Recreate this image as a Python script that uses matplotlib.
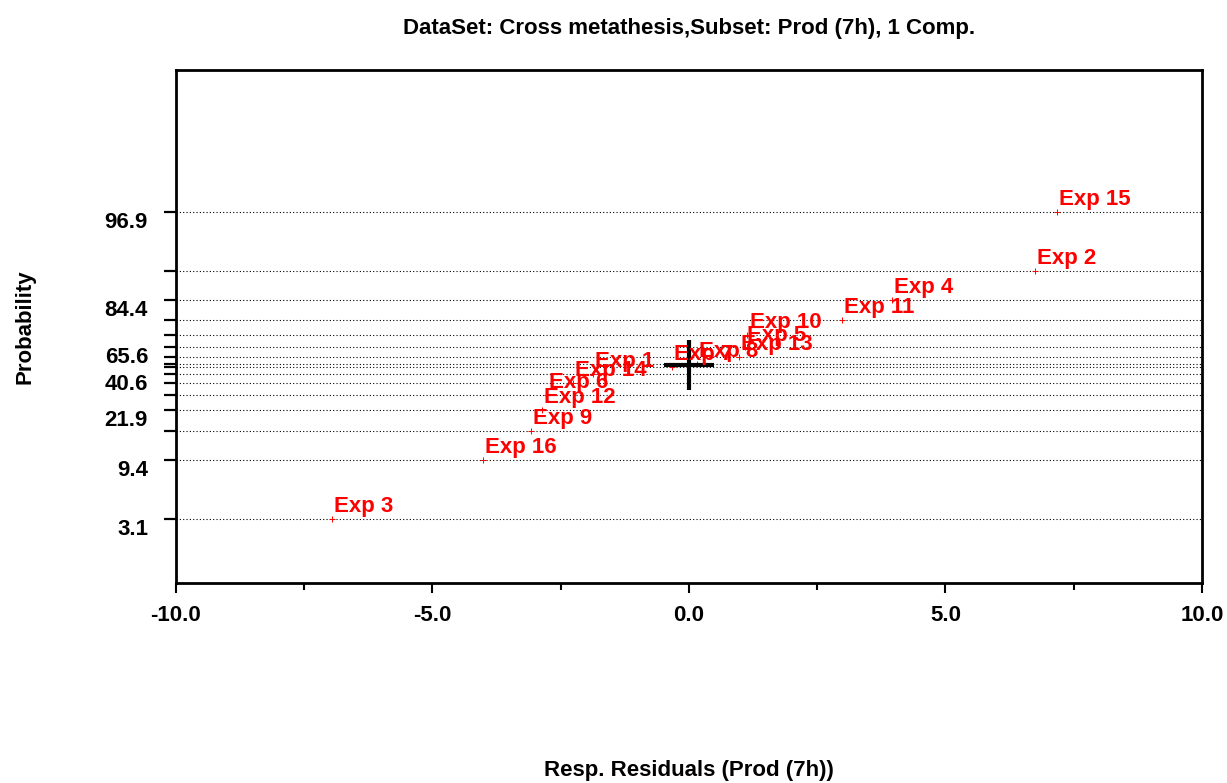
import matplotlib
matplotlib.use('Agg')
import matplotlib.pyplot as plt
import matplotlib.transforms as mtransforms
from matplotlib.ticker import MultipleLocator, FixedLocator
import numpy as np
from statistics import NormalDist

plt.rcParams['font.family'] = ['Liberation Sans', 'DejaVu Sans']
plt.rcParams['font.weight'] = 'bold'

# experiments sorted by residual, with their normal probability (%)
exp_names = ['Exp 3', 'Exp 16', 'Exp 9', 'Exp 12', 'Exp 6', 'Exp 14', 'Exp 1', 'Exp 7',
             'Exp 8', 'Exp 13', 'Exp 5', 'Exp 10', 'Exp 11', 'Exp 4', 'Exp 2', 'Exp 15']
residuals = [-6.96, -4.02, -3.08, -2.87, -2.77, -2.27, -1.87, -0.33,
             0.16, 0.97, 1.10, 1.14, 2.99, 3.96, 6.75, 7.18]
probability = [3.1, 9.4, 15.6, 21.9, 28.1, 34.4, 40.6, 46.9,
               53.1, 59.4, 65.6, 71.9, 78.1, 84.4, 90.6, 96.9]
labelled_probs = [3.1, 9.4, 21.9, 40.6, 65.6, 84.4, 96.9]
x_ticks = [-10.0, -5.0, 0.0, 5.0, 10.0]

title = 'DataSet: Cross metathesis,Subset: Prod (7h), 1 Comp.'
x_title = 'Resp. Residuals (Prod (7h))'
y_title = 'Probability'

nd = NormalDist()
_ppf = np.vectorize(nd.inv_cdf, otypes=[float])
_cdf = np.vectorize(nd.cdf, otypes=[float])
POW = 1.4


def prob_fwd(p):
    p = np.clip(np.asarray(p, dtype=float) / 100.0, 1e-9, 1 - 1e-9)
    z = _ppf(p)
    return np.sign(z) * np.abs(z) ** POW


def prob_inv(y):
    y = np.asarray(y, dtype=float)
    z = np.sign(y) * np.abs(y) ** (1.0 / POW)
    return _cdf(z) * 100.0


fig = plt.figure(figsize=(12.27, 7.83), dpi=100)
ax = fig.add_axes([0.1434, 0.2554, 0.8362, 0.6552])

ax.set_yscale('function', functions=(prob_fwd, prob_inv))
ax.set_xlim(-10, 10)
ax.set_ylim(float(prob_inv(-3.39)), float(prob_inv(4.60)))

# grid lines at every probability level
ax.yaxis.set_major_locator(FixedLocator(probability))
ax.set_yticklabels([('%.1f' % p) if p in labelled_probs else '' for p in probability])
ax.yaxis.grid(True, color='black', linestyle=(0, (1, 2)), linewidth=0.8)
ax.yaxis.set_minor_locator(FixedLocator([]))

ax.set_xticks(x_ticks)
ax.set_xticklabels(['%.1f' % v for v in x_ticks])
ax.xaxis.set_minor_locator(MultipleLocator(2.5))

ax.tick_params(axis='y', which='major', direction='out', length=8.6, width=1.6,
               labelsize=16, pad=11.5, right=False)
ax.tick_params(axis='x', which='major', direction='out', length=7, width=1.5,
               labelsize=16, pad=9, top=False)
ax.tick_params(axis='x', which='minor', direction='out', length=5, width=1.5, top=False)

# shift y labels a bit below their tick, like the original
off = mtransforms.ScaledTranslation(0, -8 / 100, fig.dpi_scale_trans)
for lab in ax.get_yticklabels():
    lab.set_transform(lab.get_transform() + off)

for s in ax.spines.values():
    s.set_linewidth(2)
    s.set_color('black')

# points + labels
ax.plot(residuals, probability, linestyle='none', marker='+', ms=4, mew=0.7, color='red')
for name, r, p in zip(exp_names, residuals, probability):
    ax.annotate(name, (r, p), xytext=(1.5, 5), textcoords='offset points',
                color='red', fontsize=16, fontweight='bold', ha='left', va='baseline')

# center cross
ax.plot([0], [50], marker='+', ms=36, mew=3, color='black')

ax.set_title(title, fontsize=16, fontweight='bold', pad=26)
ax.set_xlabel(x_title, fontsize=16, fontweight='bold')
ax.xaxis.set_label_coords(0.5, -0.366)
ax.xaxis.label.set_va('center')
ax.set_ylabel(y_title, fontsize=16, fontweight='bold')
ax.yaxis.set_label_coords(-0.147, 0.5)
ax.yaxis.label.set_va('center')

fig.savefig('out.png', dpi=100)
